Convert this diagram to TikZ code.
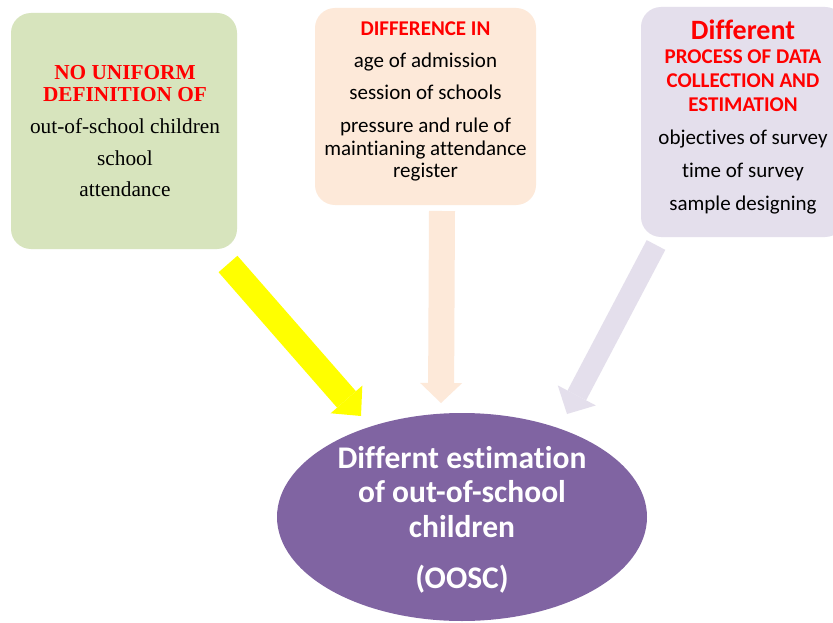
\documentclass[tikz,border=0pt]{standalone}
\usepackage{fontspec}
\setmainfont{Carlito}[Ligatures=NoCommon]
\newfontfamily\timesfont{Liberation Serif}[Ligatures=NoCommon]
\usetikzlibrary{shapes.geometric,arrows.meta}
\definecolor{boxgreen}{HTML}{D7E4BD}
\definecolor{boxpeach}{HTML}{FDE9D9}
\definecolor{boxlav}{HTML}{E4DFEC}
\definecolor{ovalpurple}{HTML}{8064A2}
\definecolor{arrowyellow}{HTML}{FFFF00}
\newcommand{\hdr}[1]{\textcolor{red}{\bfseries #1}}
\tikzset{
  roundbox/.style={rectangle, rounded corners=20pt, draw=none, inner sep=0pt},
  boxtext/.style={align=center, inner sep=0pt, text=black},
  blockarrow/.style={line cap=butt}
}
\begin{document}
\begin{tikzpicture}[x=1pt,y=-1pt]
\clip (0,0) rectangle (833,623);
\fill[white] (0,0) rectangle (833,623);

% boxes
\node[roundbox, fill=boxgreen, minimum width=226pt, minimum height=236pt] (b1) at (124,131) {};
\node[roundbox, fill=boxpeach, minimum width=221pt, minimum height=197pt] (b2) at (425.5,106.5) {};
\node[roundbox, fill=boxlav, minimum width=204pt, minimum height=230pt] (b3) at (743,122) {};

% box texts
\node[boxtext, font=\timesfont\fontsize{21.3}{22}\selectfont] (t1) at (125,131.2)
  {\hdr{NO UNIFORM}\\ \hdr{DEFINITION OF}\\[10pt] out-of-school children\\[9.5pt] school\\[9.5pt] attendance};
\node[boxtext, font=\fontsize{21}{22}\selectfont] (t2) at (425.5,101.5)
  {\hdr{DIFFERENCE IN}\\[10pt] age of admission\\[10pt] session of schools\\[11pt] pressure and rule of\\[1pt] maintianing attendance\\ register};
\node[boxtext, font=\fontsize{21}{24}\selectfont] (t3) at (743,117)
  {\hdr{\fontsize{28}{24}\selectfont Different}\\ \hdr{PROCESS OF DATA}\\ \hdr{COLLECTION AND}\\ \hdr{ESTIMATION}\\[9pt] objectives of survey\\[9pt] time of survey\\[9pt] sample designing};

% ellipse
\node[ellipse, fill=ovalpurple, draw=none, minimum width=370pt, minimum height=208pt, inner sep=0pt] (oval) at (462,517) {};
\node[boxtext, text=white, font=\bfseries\fontsize{31.5}{34}\selectfont] (ovaltext) at (462,519.5)
  {Differnt estimation\\ of out-of-school\\[1pt] children\\[17pt] (OOSC)};

% arrow ends
\coordinate (y1) at (228,264);
\coordinate (y2) at (361,416);
\coordinate (p1) at (442,211);
\coordinate (p2) at (441,403);
\coordinate (l1) at (656,245);
\coordinate (l2) at (567,414);

\draw[blockarrow, arrowyellow, line width=25pt, -{Triangle[length=22pt,width=42pt,line width=0pt]}] (y1) -- (y2);
\draw[blockarrow, boxpeach, line width=26pt, -{Triangle[length=20pt,width=42pt,line width=0pt]}] (p1) -- (p2);
\draw[blockarrow, boxlav, line width=21pt, -{Triangle[length=21pt,width=43pt,line width=0pt]}] (l1) -- (l2);
\end{tikzpicture}
\end{document}
